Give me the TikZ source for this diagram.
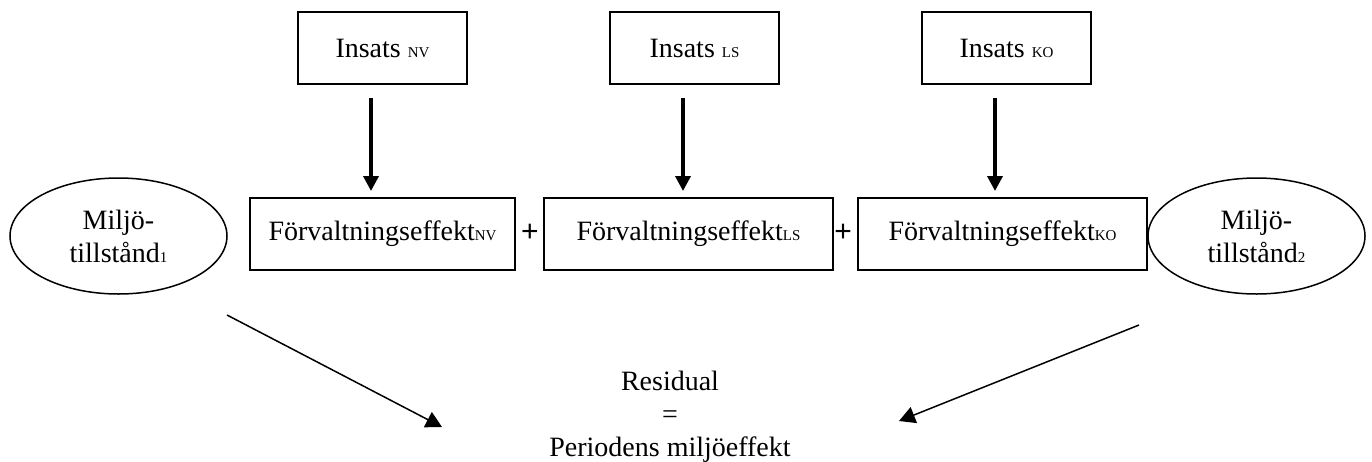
\documentclass[tikz,border=0pt]{standalone}
\usepackage{fontspec}
\setmainfont{Liberation Serif}
\newfontfamily\plusfont{Liberation Sans}
\usetikzlibrary{shapes.geometric,calc,arrows.meta}
\newcommand{\lowtag}[1]{{\fontsize{15}{15}\selectfont #1}}
\begin{document}
\begin{tikzpicture}[x=1pt,y=-1pt,
  every node/.style={font=\fontsize{28}{33}\selectfont},
  inbox/.style={draw, line width=2pt, minimum width=169pt, minimum height=72pt, inner sep=0pt},
  effbox/.style={draw, line width=2pt, minimum height=72pt, inner sep=0pt},
  state/.style={draw, ellipse, line width=1.5pt, minimum width=217pt, minimum height=116pt, inner sep=0pt, align=center},
  plussign/.style={font=\plusfont\fontsize{30}{30}\selectfont, inner sep=0pt},
  feed/.style={line width=3.5pt, shorten <=13pt, shorten >=6pt, -{Triangle[length=15pt,width=15pt]}},
  diag/.style={line width=1.5pt, -{Triangle[length=16pt,width=17pt]}}]
\useasboundingbox (0,0) rectangle (1372,461);

% inputs
\node[inbox] (insNV) at (382.5,48) {Insats \lowtag{NV}};
\node[inbox] (insLS) at (694.5,48) {Insats \lowtag{LS}};
\node[inbox] (insKO) at (1006.5,48) {Insats \lowtag{KO}};

% management effects
\node[effbox, minimum width=265pt] (fNV) at (382.5,234) {Förvaltningseffekt\lowtag{NV}};
\node[effbox, minimum width=289pt] (fLS) at (688.5,234) {Förvaltningseffekt\lowtag{LS}};
\node[effbox, minimum width=289pt] (fKO) at (1002.5,234) {Förvaltningseffekt\lowtag{KO}};
\node[plussign] (p1) at (530,233) {+};
\node[plussign] (p2) at (843,233) {+};

% environmental states
\node[state] (e1) at (118.5,236) {Miljö-\\tillstånd\lowtag{1}};
\node[state] (e2) at (1256.5,236) {Miljö-\\tillstånd\lowtag{2}};

% result
\node[align=center] (res) at (670,417) {Residual\\=\\Periodens miljöeffekt};

% input arrows
\draw[feed] ([xshift=-11.5pt]insNV.south) -- ([xshift=-11.5pt]insNV.south |- fNV.north);
\draw[feed] ([xshift=-11.5pt]insLS.south) -- ([xshift=-11.5pt]insLS.south |- fLS.north);
\draw[feed] ([xshift=-11.5pt]insKO.south) -- ([xshift=-11.5pt]insKO.south |- fKO.north);

% state arrows towards the residual
\coordinate (s1) at (227,315);
\coordinate (t1) at (442,427);
\coordinate (s2) at (1139,325);
\coordinate (t2) at (899,421);
\draw[diag] (s1) -- (t1);
\draw[diag] (s2) -- (t2);
\end{tikzpicture}
\end{document}
